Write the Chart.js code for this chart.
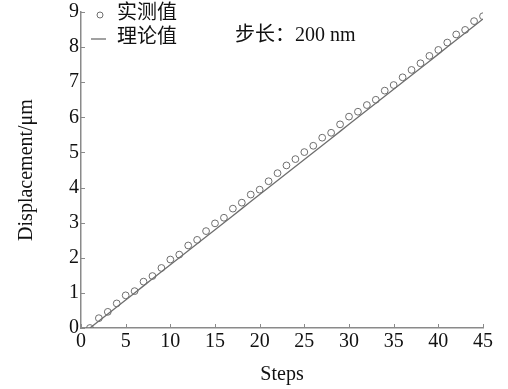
<!DOCTYPE html>
<html>
<head>
<meta charset="utf-8">
<script src="https://cdn.jsdelivr.net/npm/chart.js@4/dist/chart.umd.min.js"></script>
<style>
  html, body { margin: 0; padding: 0; background: #fff; }
  #wrap { width: 508px; height: 389px; }
</style>
</head>
<body>
<div id="wrap"><canvas id="c" width="508" height="389"></canvas></div>
<script>
// Step index of each measurement
const steps = [1,2,3,4,5,6,7,8,9,10,11,12,13,14,15,16,17,18,19,20,21,22,23,24,25,26,27,28,29,30,31,32,33,34,35,36,37,38,39,40,41,42,43,44,45];
// Measured displacement (µm)
const measured = [0.00,0.28,0.46,0.70,0.93,1.05,1.32,1.48,1.71,1.95,2.09,2.35,2.51,2.76,2.98,3.14,3.40,3.57,3.80,3.94,4.18,4.41,4.63,4.81,5.01,5.19,5.42,5.56,5.80,6.02,6.16,6.35,6.50,6.76,6.92,7.14,7.35,7.54,7.75,7.92,8.13,8.36,8.49,8.74,8.88];
// Theoretical displacement for a 200 nm step (µm)
const theory = [0.0,0.2,0.4,0.6,0.8,1.0,1.2,1.4,1.6,1.8,2.0,2.2,2.4,2.6,2.8,3.0,3.2,3.4,3.6,3.8,4.0,4.2,4.4,4.6,4.8,5.0,5.2,5.4,5.6,5.8,6.0,6.2,6.4,6.6,6.8,7.0,7.2,7.4,7.6,7.8,8.0,8.2,8.4,8.6,8.8];
const seriesNames = ['实测值', '理论值'];
const xTicks = [0,5,10,15,20,25,30,35,40,45];
const yTicks = [0,1,2,3,4,5,6,7,8,9];
const xTitle = 'Steps';
const yTitle = 'Displacement/μm';
const noteText = '步长：200 nm';

const INK = '#6e6e6e';
const AXIS = '#8a8a8a';
const FONT = '"Liberation Serif", "Times New Roman", "Noto Sans CJK SC", serif';

// Small tick marks pointing into the plot, a legend and the step-size note
const decorations = {
  id: 'decorations',
  afterDraw(chart) {
    const ctx = chart.ctx;
    const xs = chart.scales.x, ys = chart.scales.y;
    const area = chart.chartArea;
    ctx.save();
    ctx.strokeStyle = AXIS;
    ctx.lineWidth = 1;
    xTicks.forEach(v => {
      const px = Math.round(xs.getPixelForValue(v)) + 0.5;
      ctx.beginPath(); ctx.moveTo(px, area.bottom); ctx.lineTo(px, area.bottom - 4); ctx.stroke();
    });
    yTicks.forEach(v => {
      const py = Math.round(ys.getPixelForValue(v)) + 0.5;
      ctx.beginPath(); ctx.moveTo(area.left, py); ctx.lineTo(area.left + 4, py); ctx.stroke();
    });

    // legend
    const ds = chart.data.datasets;
    ctx.font = '20px ' + FONT;
    ctx.fillStyle = '#111';
    ctx.textBaseline = 'middle';
    ctx.textAlign = 'left';
    ctx.strokeStyle = INK;
    ctx.lineWidth = 1;
    ctx.beginPath(); ctx.arc(100, 15, 3, 0, Math.PI * 2); ctx.stroke();
    ctx.fillText(ds[0].label, 117, 14);
    ctx.lineWidth = 1.3;
    ctx.beginPath(); ctx.moveTo(91, 39); ctx.lineTo(106, 39); ctx.stroke();
    ctx.fillText(ds[1].label, 117, 38);

    // step-size note
    ctx.fillText(noteText, 235, 36);
    ctx.restore();
  }
};

new Chart(document.getElementById('c'), {
  type: 'scatter',
  data: {
    datasets: [
      {
        label: seriesNames[0],
        data: steps.map((s, i) => ({ x: s, y: measured[i] })),
        showLine: false,
        pointStyle: 'circle',
        pointRadius: 3.4,
        pointBorderWidth: 1,
        pointBorderColor: INK,
        pointBackgroundColor: 'rgba(255,255,255,0)'
      },
      {
        label: seriesNames[1],
        data: steps.map((s, i) => ({ x: s, y: theory[i] })),
        showLine: true,
        borderColor: INK,
        borderWidth: 1.3,
        pointRadius: 0,
        tension: 0
      }
    ]
  },
  options: {
    responsive: false,
    animation: false,
    devicePixelRatio: 1,
    layout: { padding: { top: 12, right: 25, left: 0, bottom: 0 } },
    plugins: { legend: { display: false }, tooltip: { enabled: false } },
    scales: {
      x: {
        type: 'linear', min: 0, max: 45,
        afterBuildTicks: s => { s.ticks = xTicks.map(v => ({ value: v })); },
        afterFit: s => { s.height = 61; },
        grid: { display: false },
        border: { display: true, color: AXIS, width: 1.5 },
        ticks: { color: '#111', font: { family: FONT, size: 20 }, padding: -6, maxRotation: 0 },
        title: { display: true, text: xTitle, color: '#111', font: { family: FONT, size: 20 }, padding: { top: 0, bottom: 2 } }
      },
      y: {
        type: 'linear', min: 0, max: 9,
        afterBuildTicks: s => { s.ticks = yTicks.map(v => ({ value: v })); },
        afterFit: s => { s.width = 81; },
        grid: { display: false },
        border: { display: true, color: AXIS, width: 1.5 },
        ticks: { color: '#111', font: { family: FONT, size: 20 }, padding: -6 },
        title: { display: true, text: yTitle, color: '#111', font: { family: FONT, size: 20 }, padding: { top: 15, bottom: 0 } }
      }
    }
  },
  plugins: [decorations]
});
</script>
</body>
</html>
